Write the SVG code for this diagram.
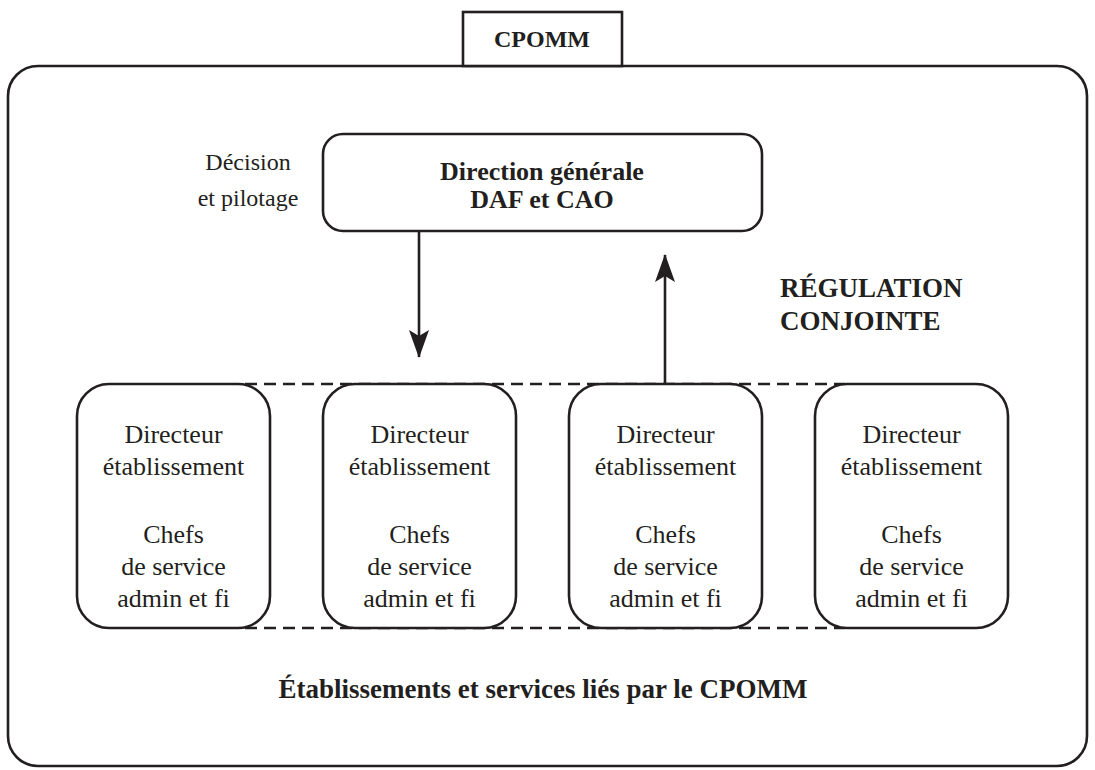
<svg xmlns="http://www.w3.org/2000/svg" width="1095" height="770" viewBox="0 0 1095 770">
  <style>
    .frame { fill: #ffffff; stroke: #231f20; stroke-width: 2.6; }
    .link { fill: none; stroke: #231f20; stroke-width: 2.6; }
    .dash { fill: none; stroke: #231f20; stroke-width: 2.4; stroke-dasharray: 12 7; }
    .t { font-family: "Liberation Serif", "Times New Roman", serif; font-size: 26px; fill: #231f20; text-anchor: middle; }
    .b { font-weight: bold; }
    .l { text-anchor: start; }
  </style>
  <defs>
    <marker id="head" viewBox="0 0 28 22" refX="27" refY="11" markerWidth="28" markerHeight="22" markerUnits="userSpaceOnUse" orient="auto">
      <path d="M0,1 L28,11 L0,21 L6,11 Z" fill="#231f20"/>
    </marker>
  </defs>

  <rect width="1095" height="770" fill="#ffffff"/>

  <!-- outer perimeter -->
  <g id="perimetre">
    <rect class="frame" x="8" y="66" width="1079" height="700" rx="30" ry="30"/>
    <text class="t b" x="543" y="698" style="font-size:27px">Établissements et services liés par le CPOMM</text>
  </g>

  <!-- title tab -->
  <g id="cpomm">
    <rect class="frame" x="463" y="12" width="159" height="54"/>
    <text class="t b" x="542" y="47" style="font-size:24px">CPOMM</text>
  </g>

  <!-- connectors -->
  <g id="connecteurs">
    <path class="dash" d="M245,384 H845"/>
    <path class="dash" d="M245,628 H845"/>
    <path class="link" d="M419,231 V357" marker-end="url(#head)"/>
    <path class="link" d="M665,384 V255" marker-end="url(#head)"/>
  </g>

  <g id="direction">
    <rect class="frame" x="323" y="134" width="439" height="97" rx="20" ry="20"/>
    <text class="t b" x="542" y="180">Direction générale</text>
    <text class="t b" x="542" y="208">DAF et CAO</text>
  </g>

  <g id="decision">
    <text class="t" x="248" y="170" style="font-size:24px">Décision</text>
    <text class="t" x="248" y="206" style="font-size:24px">et pilotage</text>
  </g>

  <g id="regulation">
    <text class="t b l" x="780" y="297" style="font-size:27px">RÉGULATION</text>
    <text class="t b l" x="780" y="330" style="font-size:27px">CONJOINTE</text>
  </g>

  <g id="etablissement-1">
    <rect class="frame" x="77" y="384" width="193" height="244" rx="32" ry="32"/>
    <text class="t" x="173.5" y="443">Directeur</text>
    <text class="t" x="173.5" y="475">établissement</text>
    <text class="t" x="173.5" y="543">Chefs</text>
    <text class="t" x="173.5" y="575">de service</text>
    <text class="t" x="173.5" y="607">admin et fi</text>
  </g>

  <g id="etablissement-2">
    <rect class="frame" x="323" y="384" width="193" height="244" rx="32" ry="32"/>
    <text class="t" x="419.5" y="443">Directeur</text>
    <text class="t" x="419.5" y="475">établissement</text>
    <text class="t" x="419.5" y="543">Chefs</text>
    <text class="t" x="419.5" y="575">de service</text>
    <text class="t" x="419.5" y="607">admin et fi</text>
  </g>

  <g id="etablissement-3">
    <rect class="frame" x="569" y="384" width="193" height="244" rx="32" ry="32"/>
    <text class="t" x="665.5" y="443">Directeur</text>
    <text class="t" x="665.5" y="475">établissement</text>
    <text class="t" x="665.5" y="543">Chefs</text>
    <text class="t" x="665.5" y="575">de service</text>
    <text class="t" x="665.5" y="607">admin et fi</text>
  </g>

  <g id="etablissement-4">
    <rect class="frame" x="815" y="384" width="193" height="244" rx="32" ry="32"/>
    <text class="t" x="911.5" y="443">Directeur</text>
    <text class="t" x="911.5" y="475">établissement</text>
    <text class="t" x="911.5" y="543">Chefs</text>
    <text class="t" x="911.5" y="575">de service</text>
    <text class="t" x="911.5" y="607">admin et fi</text>
  </g>
</svg>
